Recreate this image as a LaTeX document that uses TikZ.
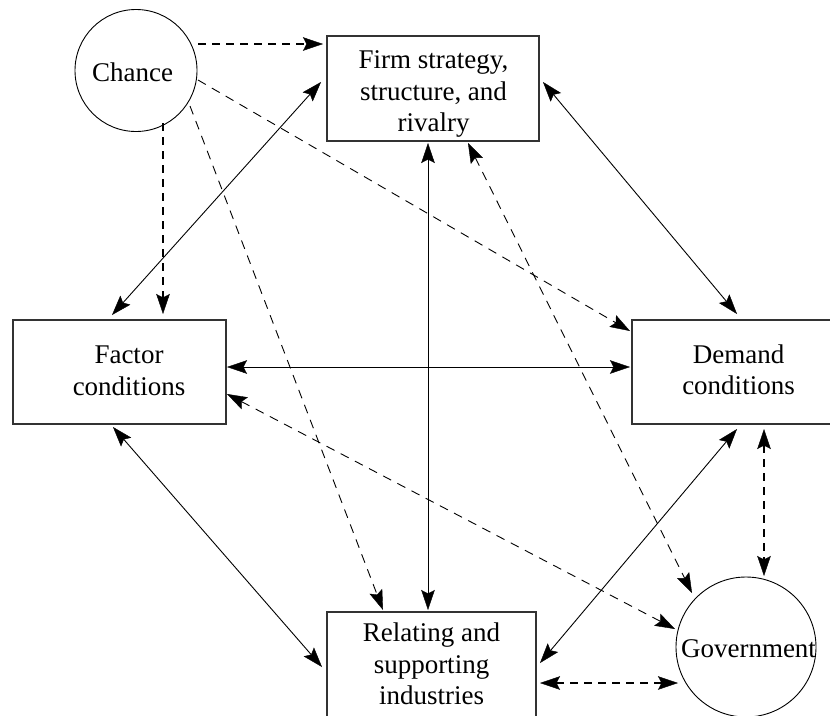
\documentclass[tikz,border=0pt]{standalone}
\usepackage{fontspec}
\setmainfont{Liberation Serif}
\usetikzlibrary{arrows.meta,calc}
\begin{document}
\begin{tikzpicture}[x=1pt,y=-1pt,
  >={Stealth[length=20pt,width=13.5pt,inset=3.5pt,line width=0.4pt]},
  boxn/.style={draw=black!80, line width=1.1pt, rectangle, inner sep=0pt},
  circ/.style={draw=black, circle, line width=0.9pt, inner sep=0pt},
  lbl/.style={inner sep=0pt, align=center, font=\fontsize{27}{31.5}\selectfont},
  solidc/.style={line width=0.9pt},
  thindash/.style={line width=0.9pt, dash pattern=on 9pt off 7pt},
  thickdash/.style={line width=2pt, dash pattern=on 8pt off 6pt}]
\useasboundingbox (0,0) rectangle (830,715);

% nodes
\node[boxn, minimum width=212pt, minimum height=105pt] (firm) at (433,88.5) {};
\node[boxn, minimum width=213pt, minimum height=104pt] (factor) at (119.5,372) {};
\node[boxn, minimum width=213pt, minimum height=104pt] (demand) at (738.5,372) {};
\node[boxn, minimum width=209pt, minimum height=105pt] (relating) at (431.5,664.5) {};
\node[circ, minimum size=122pt] (chance) at (136,70.5) {};
\node[circ, minimum size=140pt] (gov) at (746,647) {};

% labels
\node[lbl] (chanceT) at (132.5,72.5) {Chance};
\node[lbl] (firmT) at (433.5,94.3) {Firm strategy,\\structure, and\\rivalry};
\node[lbl] (factorT) at (129,370.8) {Factor\\conditions};
\node[lbl] (demandT) at (738.5,370) {Demand\\conditions};
\node[lbl] (relatingT) at (431.5,664.2) {Relating and\\supporting\\industries};
\node[lbl] (govT) at (748.5,648.8) {Government};

% chance influences
\draw[thickdash,->] ($(chance)+(62,-26.5)$) -- ($(firm)+(-110,-44.5)$);
\draw[thickdash,->] ($(chance)+(27,52.5)$) -- ($(factor)+(43.5,-58)$);
\draw[thindash,->] ($(chance)+(62,9.5)$) -- ($(demand)+(-108.5,-41)$);
\draw[thindash,->] ($(chance)+(54,35.5)$) -- ($(relating)+(-48.5,-54.5)$);

% diamond (solid)
\draw[solidc,<->] ($(firm)+(-112,-6.5)$) -- ($(factor)+(-7.5,-57)$);
\draw[solidc,<->] ($(firm)+(110,-6.5)$) -- ($(demand)+(-1.5,-58)$);
\draw[solidc,<->] ($(firm)+(-5,54.5)$) -- ($(relating)+(-3.5,-54.5)$);
\draw[solidc,<->] ($(factor)+(107.5,-5)$) -- ($(demand)+(-108.5,-5)$);
\draw[solidc,<->] ($(factor)+(-6.5,55)$) -- ($(relating)+(-109.5,2.5)$);
\draw[solidc,<->] ($(demand)+(-1.5,57)$) -- ($(relating)+(108.5,-1.5)$);

% government
\draw[thickdash,<->] ($(demand)+(25.5,57)$) -- ($(gov)+(18,-71)$);
\draw[thickdash,<->] ($(relating)+(108.5,18.5)$) -- ($(gov)+(-68,36)$);
\draw[thindash,<->] ($(factor)+(107.5,22)$) -- ($(gov)+(-71,-18)$);
\draw[thindash,<->] ($(firm)+(35,54.5)$) -- ($(gov)+(-54,-54)$);
\end{tikzpicture}
\end{document}
